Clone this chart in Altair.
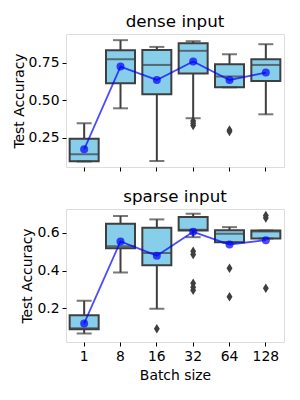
import altair as alt
import pandas as pd

batches = ["1", "8", "16", "32", "64", "128"]

# dense input
dense_wlo = [0.090, 0.445, 0.094, 0.379, 0.585, 0.405]
dense_q1 = [0.092, 0.612, 0.539, 0.677, 0.585, 0.627]
dense_med = [0.139, 0.772, 0.734, 0.828, 0.657, 0.734]
dense_q3 = [0.243, 0.832, 0.834, 0.879, 0.739, 0.772]
dense_whi = [0.345, 0.899, 0.854, 0.892, 0.805, 0.872]
dense_mean = [0.172, 0.723, 0.634, 0.757, 0.634, 0.683]
dense_out_batch = ["32", "32", "32", "64", "64"]
dense_out_val = [0.360, 0.345, 0.330, 0.300, 0.290]

# sparse input
sparse_wlo = [0.067, 0.390, 0.198, 0.577, 0.548, 0.570]
sparse_q1 = [0.090, 0.518, 0.428, 0.612, 0.550, 0.570]
sparse_med = [0.095, 0.529, 0.493, 0.616, 0.595, 0.607]
sparse_q3 = [0.164, 0.648, 0.627, 0.683, 0.614, 0.612]
sparse_whi = [0.240, 0.689, 0.671, 0.701, 0.630, 0.612]
sparse_mean = [0.120, 0.554, 0.479, 0.605, 0.538, 0.561]
sparse_out_batch = ["16", "32", "32", "32", "32", "32", "64", "64", "128", "128", "128"]
sparse_out_val = [0.092, 0.502, 0.485, 0.333, 0.312, 0.296, 0.413, 0.262, 0.692, 0.678, 0.307]

FONT = "DejaVu Sans"
EDGE = "#3f3f3f"
FILL = "#87ceeb"
DIAMOND = "M0,-1L0.62,0L0,1L-0.62,0Z"


def panel(title, wlo, q1, med, q3, whi, mean, ob, ov, ydom, yticks, yfmt, bottom):
    df = pd.DataFrame({"batch": batches, "wlo": wlo, "q1": q1, "med": med,
                       "q3": q3, "whi": whi, "mean": mean})
    odf = pd.DataFrame({"batch": ob, "val": ov})
    xaxis = alt.Axis(labels=bottom, title="Batch size" if bottom else None,
                     labelAngle=0, tickSize=4, domain=False, labelFontSize=13.9,
                     titleFontSize=13.9, labelColor="black", titleColor="black",
                     titleFontWeight="normal", labelFont=FONT, titleFont=FONT,
                     tickColor="black", labelPadding=3, titlePadding=6)
    x = alt.X("batch:N", sort=batches, axis=xaxis,
              scale=alt.Scale(paddingInner=0, paddingOuter=0))
    yscale = alt.Scale(domain=ydom, nice=False, zero=False)
    yaxis = alt.Axis(values=yticks, format=yfmt, title="Test Accuracy", grid=False,
                     domain=False, tickSize=4, labelFontSize=13.9, titleFontSize=13.9,
                     labelColor="black", titleColor="black", titleFontWeight="normal",
                     labelFont=FONT, titleFont=FONT, tickColor="black",
                     labelPadding=3, titlePadding=2)
    base = alt.Chart(df)
    whisk = base.mark_rule(color=EDGE, strokeWidth=2).encode(
        x=x, y=alt.Y("wlo:Q", scale=yscale, axis=yaxis), y2="whi:Q")
    box = base.mark_bar(width=29, fill=FILL, stroke=EDGE, strokeWidth=2).encode(
        x=x, y=alt.Y("q1:Q", scale=yscale, axis=yaxis), y2="q3:Q")
    medt = base.mark_tick(color=EDGE, size=29, thickness=2).encode(
        x=x, y=alt.Y("med:Q", scale=yscale, axis=yaxis))
    caplo = base.mark_tick(color=EDGE, size=15, thickness=2).encode(
        x=x, y=alt.Y("wlo:Q", scale=yscale, axis=yaxis))
    caphi = base.mark_tick(color=EDGE, size=15, thickness=2).encode(
        x=x, y=alt.Y("whi:Q", scale=yscale, axis=yaxis))
    outs = alt.Chart(odf).mark_point(shape=DIAMOND, filled=True, color=EDGE,
                                     size=90, opacity=1).encode(
        x=x, y=alt.Y("val:Q", scale=yscale, axis=yaxis))
    mline = base.mark_line(color="blue", opacity=0.7, strokeWidth=1.8).encode(
        x=x, y=alt.Y("mean:Q", scale=yscale, axis=yaxis))
    mpt = base.mark_circle(color="blue", opacity=0.7, size=64).encode(
        x=x, y=alt.Y("mean:Q", scale=yscale, axis=yaxis))
    return alt.layer(whisk, box, medt, caplo, caphi, outs, mline, mpt).properties(
        width=218, height=133,
        title=alt.TitleParams(title, fontSize=16.7, font=FONT, fontWeight="normal",
                              color="black", offset=3))


top = panel("dense input", dense_wlo, dense_q1, dense_med, dense_q3, dense_whi,
            dense_mean, dense_out_batch, dense_out_val, [0.054, 0.94],
            [0.25, 0.5, 0.75], ".2f", False)
bot = panel("sparse input", sparse_wlo, sparse_q1, sparse_med, sparse_q3, sparse_whi,
            sparse_mean, sparse_out_batch, sparse_out_val, [0.022, 0.726],
            [0.2, 0.4, 0.6], ".1f", True)

chart = alt.vconcat(top, bot, spacing=16).configure_view(
    stroke="black", strokeWidth=1).configure(background="white",
                                             padding={"left": 3, "top": 5, "right": 5, "bottom": 5})

chart.save("out.html", embed_options={"renderer": "svg", "actions": False})
